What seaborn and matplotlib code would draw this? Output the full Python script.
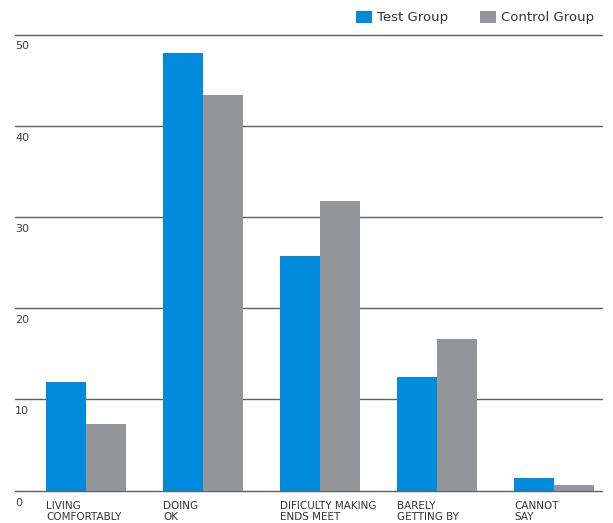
import pandas as pd
import matplotlib
matplotlib.use("Agg")
import matplotlib.pyplot as plt
import seaborn as sns

# Données
categories = ["LIVING\nCOMFORTABLY", "DOING\nOK", "DIFICULTY MAKING\nENDS MEET",
              "BARELY\nGETTING BY", "CANNOT\nSAY"]
test_group = [11.9, 48.0, 25.7, 12.5, 1.4]
control_group = [7.3, 43.4, 31.7, 16.6, 0.6]
groups = ["Test Group", "Control Group"]
yticks = [0, 10, 20, 30, 40, 50]

df = pd.DataFrame({
    "Category": categories * 2,
    "Value": test_group + control_group,
    "Group": [groups[0]] * len(categories) + [groups[1]] * len(categories),
})

sns.set_style("white")
plt.rcParams["font.family"] = ["DejaVu Sans"]

fig = plt.figure(figsize=(6.13, 5.23), dpi=100)
ax = fig.add_axes([15 / 613, 32.3 / 523, 587 / 613, 456.2 / 523])

width = 0.684
sns.barplot(data=df, x="Category", y="Value", hue="Group", ax=ax,
            palette=["#008bdc", "#939598"], width=width, saturation=1,
            linewidth=0, legend=True)

ax.set_xlim(-0.607, 4.41)
ax.set_ylim(0, 50)
for s in ax.spines.values():
    s.set_visible(False)

ax.set_yticks(yticks)
ax.set_yticklabels([])
ax.tick_params(axis="y", length=0)
ax.yaxis.grid(True, color="#606060", linewidth=1.0)
for gl in ax.get_ygridlines():
    gl.set_clip_on(False)
ax.set_axisbelow(True)

# Étiquettes de l'axe Y sous chaque ligne
trans = matplotlib.transforms.blended_transform_factory(ax.transAxes, ax.transData)
for v in yticks:
    ax.text(0.0, v - 0.75, str(v), transform=trans, ha="left", va="top",
            fontsize=8, color="#444444")

# Étiquettes des catégories alignées à gauche des barres
ax.set_xticks([i - width / 2 for i in range(len(categories))])
ax.set_xticklabels(categories, ha="left", va="top", fontsize=7.5, color="#333333",
                   linespacing=1.12)
ax.tick_params(axis="x", length=0, pad=7.5)
ax.set_xlabel("")
ax.set_ylabel("")

leg = ax.legend(loc="lower right", bbox_to_anchor=(1.0, 1.005), ncol=2,
                frameon=False, fontsize=9.5, handlelength=1.25, handleheight=1.0,
                handletextpad=0.35, columnspacing=2.4, borderaxespad=0.2)
for t in leg.get_texts():
    t.set_color("#333333")

fig.savefig("out.png", dpi=100)
